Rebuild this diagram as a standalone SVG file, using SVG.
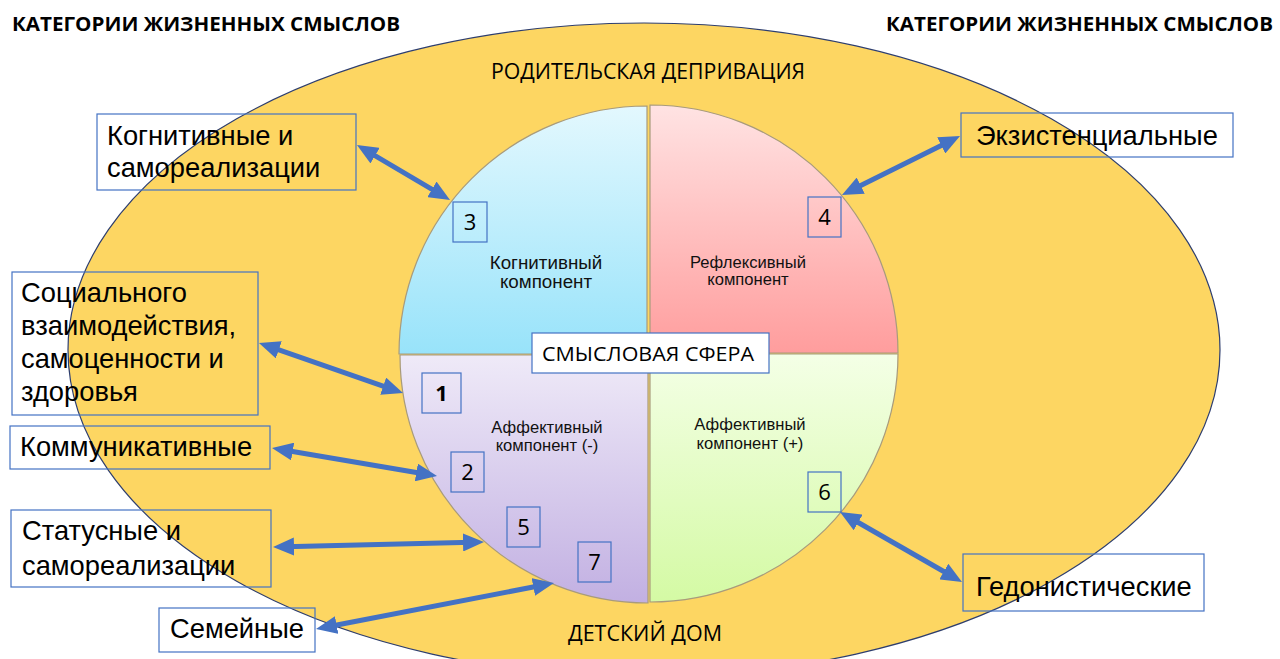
<svg xmlns="http://www.w3.org/2000/svg" width="1280" height="659" viewBox="0 0 1280 659">
<style>
.lbl{font-family:"Liberation Sans",Arial,sans-serif;font-size:27.3px;fill:#000}
.inner{font-family:"Liberation Sans",Arial,sans-serif;font-size:16.6px;fill:#111;text-anchor:middle}
.inner.big{font-size:18.8px}
.cal{font-family:"Open Sans","Liberation Sans",sans-serif;fill:#000}
.box{fill:none;stroke:#4472C4;stroke-width:1.2}
.num{font-family:"Open Sans","Liberation Sans",sans-serif;font-size:22px;fill:#000;text-anchor:middle}
.slice{stroke:#A89B7C;stroke-width:1.2}
.arr{stroke:#4472C4;stroke-width:5;fill:none;marker-start:url(#ah);marker-end:url(#ah)}
</style>
<defs>
<marker id="ah" markerUnits="userSpaceOnUse" markerWidth="21" markerHeight="18" refX="9" refY="9" orient="auto-start-reverse"><path d="M0,0 L21,9 L0,18 Z" fill="#4472C4"/></marker>
<linearGradient id="gBlue" x1="0" y1="0" x2="0" y2="1"><stop offset="0" stop-color="#E3F8FE"/><stop offset="1" stop-color="#98E3FA"/></linearGradient>
<linearGradient id="gPink" x1="0" y1="0" x2="0" y2="1"><stop offset="0" stop-color="#FFE3E3"/><stop offset="1" stop-color="#FF9D9D"/></linearGradient>
<linearGradient id="gLav" x1="0" y1="0" x2="0" y2="1"><stop offset="0" stop-color="#EFEAF8"/><stop offset="1" stop-color="#C2B0E2"/></linearGradient>
<linearGradient id="gGreen" x1="0" y1="0" x2="0" y2="1"><stop offset="0" stop-color="#F4FFE6"/><stop offset="1" stop-color="#D4FAA4"/></linearGradient>
</defs>
<rect width="1280" height="659" fill="#fff"/>
<g id="outer-ellipse">
<ellipse cx="644" cy="350" rx="576" ry="327" fill="#FDD662" stroke="#2E3E6E" stroke-width="1.2"/>
<text class="cal" x="491" y="79" font-size="21" textLength="314" lengthAdjust="spacingAndGlyphs">РОДИТЕЛЬСКАЯ ДЕПРИВАЦИЯ</text>
<text class="cal" x="568" y="641" font-size="21" textLength="154" lengthAdjust="spacingAndGlyphs">ДЕТСКИЙ ДОМ</text>
</g>
<g id="headers">
<text class="cal" x="12" y="31" font-size="20" font-weight="700" textLength="388" lengthAdjust="spacingAndGlyphs">КАТЕГОРИИ ЖИЗНЕННЫХ СМЫСЛОВ</text>
<text class="cal" x="886" y="31" font-size="20" font-weight="700" textLength="387" lengthAdjust="spacingAndGlyphs">КАТЕГОРИИ ЖИЗНЕННЫХ СМЫСЛОВ</text>
</g>
<g id="sphere">
<path class="slice" d="M647,354 L399,354 A248,248 0 0 1 647,106 Z" fill="url(#gBlue)"/>
<path class="slice" d="M650,353 L650,105 A248,248 0 0 1 898,353 Z" fill="url(#gPink)"/>
<path class="slice" d="M650,354 L898,354 A248,248 0 0 1 650,602 Z" fill="url(#gGreen)"/>
<path class="slice" d="M648,355 L648,603 A248,248 0 0 1 400,355 Z" fill="url(#gLav)"/>
</g>
<g id="comp-cognitive"><text class="inner big" x="546" y="269">Когнитивный</text><text class="inner big" x="546" y="288">компонент</text></g>
<g id="comp-reflexive"><text class="inner" x="748" y="268">Рефлексивный</text><text class="inner" x="748" y="285">компонент</text></g>
<g id="comp-affneg"><text class="inner" x="547" y="433">Аффективный</text><text class="inner" x="547" y="451">компонент (-)</text></g>
<g id="comp-affpos"><text class="inner" x="750" y="430">Аффективный</text><text class="inner" x="750" y="449">компонент (+)</text></g>
<g id="sphere-title"><rect x="532" y="333" width="237" height="40" fill="#fff" stroke="#4472C4" stroke-width="1.2"/><text class="cal" x="542" y="361" font-size="20" textLength="212" lengthAdjust="spacingAndGlyphs">СМЫСЛОВАЯ СФЕРА</text></g>
<g id="n3"><rect class="box" x="453" y="202" width="34" height="40"/><text class="num" x="470" y="230">3</text></g>
<g id="n4"><rect class="box" x="808" y="197" width="33" height="40"/><text class="num" x="824.5" y="225">4</text></g>
<g id="n1"><rect class="box" x="422" y="373" width="39" height="40"/><text class="num" x="441.5" y="401" font-weight="700">1</text></g>
<g id="n2"><rect class="box" x="451" y="452" width="33" height="40"/><text class="num" x="467.5" y="480">2</text></g>
<g id="n5"><rect class="box" x="507" y="507" width="33" height="40"/><text class="num" x="523.5" y="535">5</text></g>
<g id="n7"><rect class="box" x="578" y="542" width="33" height="40"/><text class="num" x="594.5" y="570">7</text></g>
<g id="n6"><rect class="box" x="808" y="472" width="33" height="40"/><text class="num" x="824.5" y="500">6</text></g>
<g id="cat-cognitive"><rect class="box" x="97" y="114" width="259" height="76"/><text class="lbl" x="107" y="145">Когнитивные и</text><text class="lbl" x="107" y="177">самореализации</text></g>
<g id="cat-social"><rect class="box" x="12" y="272" width="246" height="143"/><text class="lbl" x="21" y="302">Социального</text><text class="lbl" x="21" y="335">взаимодействия,</text><text class="lbl" x="21" y="368">самоценности и</text><text class="lbl" x="21" y="401">здоровья</text></g>
<g id="cat-comm"><rect class="box" x="10" y="426" width="260" height="43"/><text class="lbl" x="20" y="456">Коммуникативные</text></g>
<g id="cat-status"><rect class="box" x="11" y="510" width="260" height="77"/><text class="lbl" x="22" y="540">Статусные и</text><text class="lbl" x="22" y="575">самореализации</text></g>
<g id="cat-family"><rect class="box" x="159" y="608" width="156" height="44"/><text class="lbl" x="170" y="638">Семейные</text></g>
<g id="cat-exist"><rect class="box" x="961" y="113" width="272" height="44"/><text class="lbl" x="976" y="145">Экзистенциальные</text></g>
<g id="cat-hedon"><rect class="box" x="963" y="554" width="241" height="57"/><text class="lbl" x="976" y="596">Гедонистические</text></g>
<g id="connectors">
<line class="arr" x1="367.3" y1="151.1" x2="439.7" y2="193.9"/>
<line class="arr" x1="270.3" y1="346.9" x2="391.7" y2="389.1"/>
<line class="arr" x1="283.8" y1="450" x2="425.2" y2="474"/>
<line class="arr" x1="285" y1="546.7" x2="472" y2="542.3"/>
<line class="arr" x1="327.8" y1="626.7" x2="542.2" y2="585.3"/>
<line class="arr" x1="949.3" y1="141.4" x2="852.7" y2="189.6"/>
<line class="arr" x1="850.4" y1="518" x2="951.6" y2="576"/>
</g>
</svg>
